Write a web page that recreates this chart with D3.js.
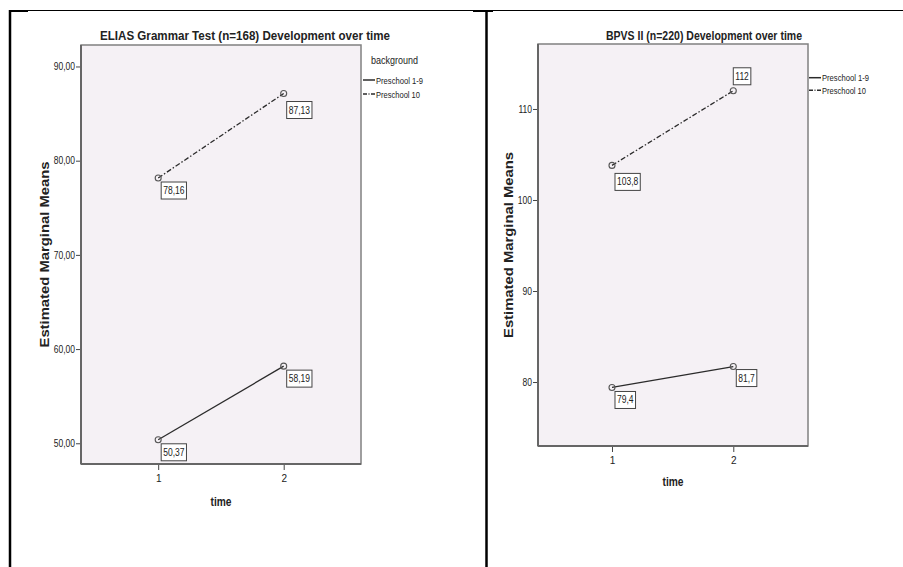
<!DOCTYPE html>
<html>
<head>
<meta charset="utf-8">
<script src="https://cdn.jsdelivr.net/npm/d3@7"></script>
<style>
  html, body { margin: 0; padding: 0; background: #fff; }
  svg { display: block; }
  text { font-family: "Liberation Sans Narrow", "Arial Narrow", "Liberation Sans", Arial, sans-serif; fill: #222; }
</style>
</head>
<body>
<svg id="chart" width="903" height="567"></svg>
<script>
// ---------- data ----------
const times = [1, 2];
const seriesNames = ["Preschool 1-9", "Preschool 10"];
const eliasPreschool19 = [50.37, 58.19];
const eliasPreschool10 = [78.16, 87.13];
const bpvsPreschool19 = [79.4, 81.7];
const bpvsPreschool10 = [103.8, 112];
const eliasTicks = [50, 60, 70, 80, 90];
const bpvsTicks = [80, 90, 100, 110];
const eliasTitle = "ELIAS Grammar Test (n=168) Development over time";
const bpvsTitle = "BPVS II (n=220) Development over time";
const yTitle = "Estimated Marginal Means";
const xTitle = "time";
const legendTitle = "background";

// ---------- layout ----------
const svg = d3.select("#chart");

function fitWidth(sel, w) {
  sel.attr("textLength", w).attr("lengthAdjust", "spacingAndGlyphs");
}
function narrow(sel, f) {
  sel.each(function () {
    const len = this.getComputedTextLength();
    d3.select(this).attr("textLength", len * f).attr("lengthAdjust", "spacingAndGlyphs");
  });
}
const commaFmt = v => String(v).replace(".", ",");

// page frame (document table borders)
svg.append("line").attr("x1", 10).attr("x2", 903).attr("y1", 10.5).attr("y2", 10.5)
  .attr("stroke", "#000").attr("stroke-width", 1);
svg.append("line").attr("x1", 10).attr("x2", 28).attr("y1", 11).attr("y2", 11)
  .attr("stroke", "#000").attr("stroke-width", 2);
svg.append("line").attr("x1", 473).attr("x2", 493).attr("y1", 11).attr("y2", 11)
  .attr("stroke", "#000").attr("stroke-width", 2);
svg.append("line").attr("x1", 10).attr("x2", 10).attr("y1", 10).attr("y2", 567)
  .attr("stroke", "#000").attr("stroke-width", 2.5);
svg.append("line").attr("x1", 486.5).attr("x2", 486.5).attr("y1", 10).attr("y2", 567)
  .attr("stroke", "#000").attr("stroke-width", 2.5);

function drawPanel(cfg) {
  const g = svg.append("g");
  const x = d3.scaleLinear().domain(cfg.xDomain).range([cfg.left, cfg.right]);
  const y = d3.scaleLinear().domain(cfg.yDomain).range([cfg.bottom, cfg.top]);

  g.append("rect")
    .attr("x", cfg.left).attr("y", cfg.top)
    .attr("width", cfg.right - cfg.left).attr("height", cfg.bottom - cfg.top)
    .attr("fill", "#f5f1f5").attr("stroke", "#808080").attr("stroke-width", 1.5);

  const ya = g.append("g").attr("transform", `translate(${cfg.left},0)`)
    .call(d3.axisLeft(y).tickValues(cfg.ticks).tickSize(5).tickPadding(1).tickFormat(cfg.tickFmt));
  ya.select(".domain").remove();
  ya.selectAll(".tick line").attr("stroke", "#444");
  ya.selectAll(".tick text").attr("font-size", 10).style("font-family", null).attr("fill", "#333");
  narrow(ya.selectAll(".tick text"), cfg.tickNarrow);

  const xa = g.append("g").attr("transform", `translate(0,${cfg.bottom})`)
    .call(d3.axisBottom(x).tickValues(times).tickSize(6).tickPadding(5).tickFormat(d3.format("d")));
  xa.select(".domain").remove();
  xa.selectAll(".tick line").attr("stroke", "#444");
  xa.selectAll(".tick text").attr("font-size", 10).style("font-family", null).attr("fill", "#333");

  g.append("line").attr("x1", cfg.left).attr("x2", cfg.left).attr("y1", cfg.top).attr("y2", cfg.bottom)
    .attr("stroke", "#666").attr("stroke-width", 2);
  g.append("line").attr("x1", cfg.left).attr("x2", cfg.right).attr("y1", cfg.bottom).attr("y2", cfg.bottom)
    .attr("stroke", "#666").attr("stroke-width", 2);

  const t = g.append("text").attr("x", cfg.titleX).attr("y", cfg.titleY)
    .attr("text-anchor", "middle").attr("font-size", 13).attr("font-weight", "bold")
    .attr("fill", "#111").text(cfg.title);
  fitWidth(t, cfg.titleW);

  const yt = g.append("text")
    .attr("transform", `translate(${cfg.yTitleX},${(cfg.top + cfg.bottom) / 2}) rotate(-90)`)
    .attr("text-anchor", "middle").attr("dominant-baseline", "middle")
    .attr("font-size", 12).attr("font-weight", "bold").attr("fill", "#111")
    .style("font-family", "'Liberation Sans', Arial, sans-serif")
    .text(yTitle);
  fitWidth(yt, 186);
  const xt = g.append("text").attr("x", (cfg.left + cfg.right) / 2).attr("y", cfg.xTitleY)
    .attr("text-anchor", "middle").attr("dominant-baseline", "middle")
    .attr("font-size", 12).attr("font-weight", "bold").attr("fill", "#111").text(xTitle);
  fitWidth(xt, 21);

  const series = [
    { name: seriesNames[0], vals: cfg.s1, dash: null },
    { name: seriesNames[1], vals: cfg.s2, dash: "5,2,1.5,2" }
  ];
  const line = d3.line().x((d, i) => x(times[i])).y(d => y(d));
  series.forEach((s, si) => {
    g.append("path").datum(s.vals).attr("d", line)
      .attr("fill", "none").attr("stroke", "#2b2b2b").attr("stroke-width", 1.3)
      .attr("stroke-dasharray", s.dash);
    g.selectAll(null).data(s.vals).enter().append("circle")
      .attr("cx", (d, i) => x(times[i])).attr("cy", d => y(d)).attr("r", 3)
      .attr("fill", "none").attr("stroke", "#555").attr("stroke-width", 1.1);
    s.vals.forEach((v, i) => {
      const px = x(times[i]), py = y(v);
      const place = cfg.labelPlace[si][i];
      const lg = g.append("g");
      const txt = lg.append("text").attr("font-size", 10).attr("fill", "#222").text(commaFmt(v));
      narrow(txt, cfg.labelNarrow);
      const w = +txt.attr("textLength") + 4, h = 17;
      const bx = px + place[0];
      const by = place[1] >= 0 ? py + place[1] : py + place[1] - h;
      lg.insert("rect", "text").attr("x", bx).attr("y", by).attr("width", w).attr("height", h)
        .attr("fill", "#fff").attr("stroke", "#444").attr("stroke-width", 1);
      txt.attr("x", bx + 2).attr("y", by + h / 2).attr("dominant-baseline", "central");
    });
  });

  if (cfg.legendTitle) {
    const lt = g.append("text").attr("x", cfg.legX + 8).attr("y", cfg.legY - 20)
      .attr("dominant-baseline", "central").attr("font-size", 11).attr("fill", "#222").text(legendTitle);
    fitWidth(lt, 47);
  }
  series.forEach((s, si) => {
    const ly = cfg.legY + si * cfg.legStep;
    g.append("line").attr("x1", cfg.legX).attr("x2", cfg.legX + 12).attr("y1", ly).attr("y2", ly)
      .attr("stroke", "#2b2b2b").attr("stroke-width", 1.5).attr("stroke-dasharray", s.dash ? "4,1.5,1,1.5" : null);
    const tx = g.append("text").attr("x", cfg.legX + 13).attr("y", ly).attr("dominant-baseline", "central")
      .attr("font-size", 9.5).attr("fill", "#222").text(s.name);
    fitWidth(tx, si === 0 ? 47 : 44);
  });
}

drawPanel({
  left: 81, right: 361, top: 45, bottom: 464,
  xDomain: [0.385, 2.616], yDomain: [47.8, 92.28],
  ticks: eliasTicks, tickFmt: d => d3.format(".2f")(d).replace(".", ","),
  tickNarrow: 0.85, labelNarrow: 0.85,
  title: eliasTitle, titleX: 245, titleY: 40, titleW: 290,
  yTitleX: 46, xTitleY: 503,
  s1: eliasPreschool19, s2: eliasPreschool10,
  labelPlace: [[[3, 4], [3, 4]], [[3, 4], [3, 8]]],
  legendTitle: true, legX: 363, legY: 80, legStep: 14
});

drawPanel({
  left: 538, right: 808, top: 44, bottom: 446,
  xDomain: [0.39, 2.616], yDomain: [72.97, 117.14],
  ticks: bpvsTicks, tickFmt: d3.format("d"),
  tickNarrow: 0.85, labelNarrow: 0.85,
  title: bpvsTitle, titleX: 704, titleY: 40, titleW: 196,
  yTitleX: 510, xTitleY: 483,
  s1: bpvsPreschool19, s2: bpvsPreschool10,
  labelPlace: [[[3, 4], [3, 3]], [[3, 8], [0, -6]]],
  legendTitle: false, legX: 809, legY: 77.7, legStep: 12.5
});
</script>
</body>
</html>
